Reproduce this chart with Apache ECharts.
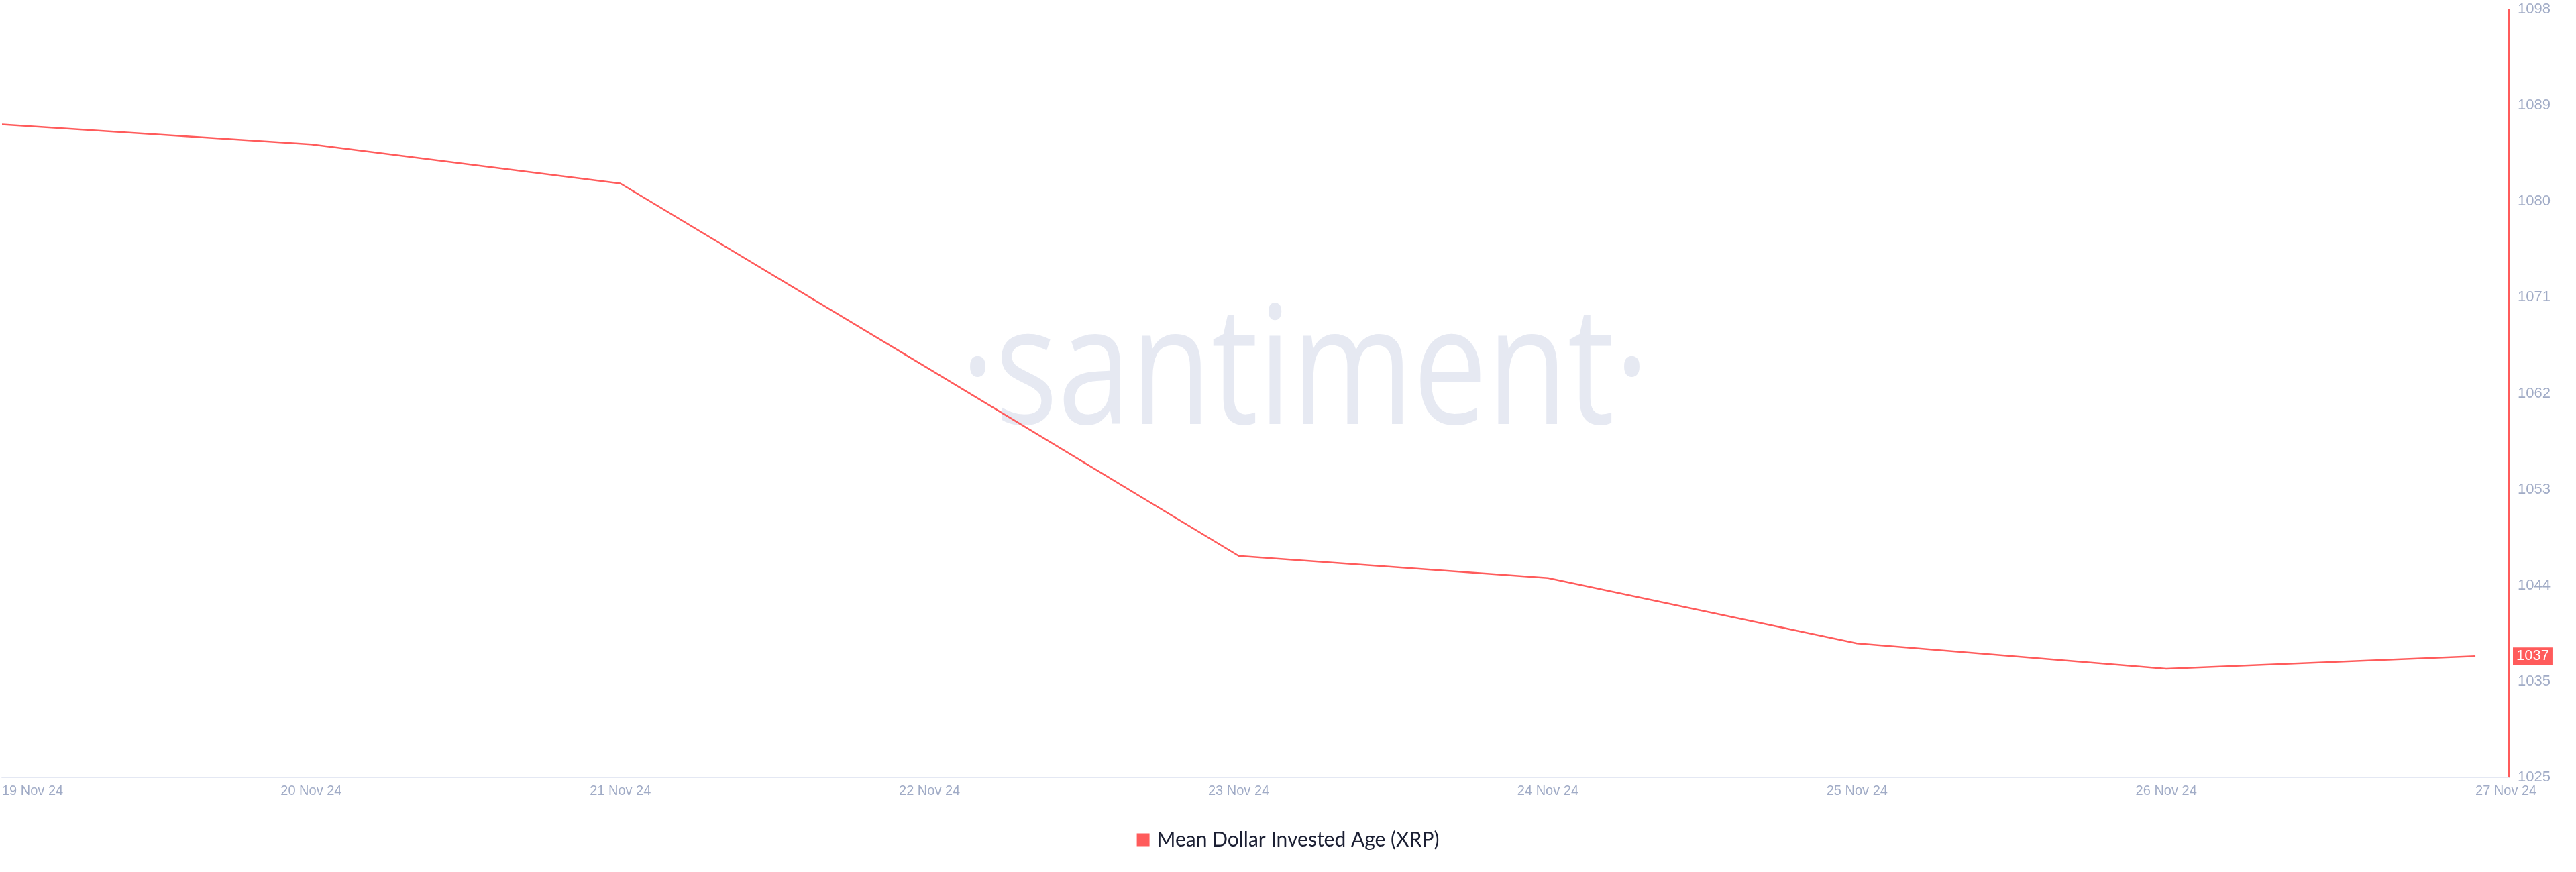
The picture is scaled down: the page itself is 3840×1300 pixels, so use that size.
<!DOCTYPE html>
<html>
<head>
<meta charset="utf-8">
<script src="https://cdn.jsdelivr.net/npm/echarts@6/dist/echarts.min.js"></script>
<style>
  html, body { margin: 0; padding: 0; background: #ffffff; }
  #chart { width: 3840px; height: 1300px; }
</style>
</head>
<body>
<div id="chart"></div>
<script>
// ---- data ----
const dates = ['2024-11-19', '2024-11-20', '2024-11-21', '2024-11-22', '2024-11-23',
               '2024-11-24', '2024-11-25', '2024-11-26', '2024-11-27'];
const mdiaValues = [1087.3, 1085.4, 1081.7, 1064.1, 1046.4, 1044.3, 1038.1, 1035.7, 1036.9];
const yTickValues = [1025.4, 1034.5, 1043.6, 1052.7, 1061.8, 1070.9, 1080.0, 1089.1, 1098.2];
const seriesName = 'Mean Dollar Invested Age (XRP)';
const monthNames = ['Jan','Feb','Mar','Apr','May','Jun','Jul','Aug','Sep','Oct','Nov','Dec'];

const LINE = '#ff5b5b';
const AXIS_TEXT = '#a0abc6';

function toTs(s) {
  const p = s.split('-').map(Number);
  return new Date(p[0], p[1] - 1, p[2]).getTime();
}
const dateTs = dates.map(toTs);
const pts = dateTs.map((t, i) => [t, mdiaValues[i]]);
const lastVal = mdiaValues[mdiaValues.length - 1];

const xMin = dateTs[0];
const xMax = dateTs[dateTs.length - 1] + 2.6 * 3600 * 1000;

const chart = echarts.init(document.getElementById('chart'), null, { renderer: 'canvas' });

chart.setOption({
  animation: false,
  backgroundColor: '#ffffff',
  textStyle: { fontFamily: '"Liberation Sans", Arial, sans-serif' },
  graphic: [{
    type: 'text',
    z: -10,
    silent: true,
    x: 1945,
    y: 562,
    scaleX: 0.8,
    style: {
      text: '·santiment·',
      font: '245px "Open Sans"',
      fill: '#e6e9f2',
      textAlign: 'center',
      textVerticalAlign: 'middle'
    }
  }],
  grid: { left: 0, right: 100, top: 14, bottom: 141, containLabel: false },
  legend: {
    bottom: 28,
    left: 'center',
    icon: 'rect',
    itemWidth: 19,
    itemHeight: 19,
    textStyle: { fontFamily: 'Lato, "Noto Sans", sans-serif', fontSize: 30, color: '#1b1f33', padding: [0, 0, 0, 6] },
    data: [seriesName]
  },
  xAxis: {
    type: 'value',
    min: xMin,
    max: xMax,
    axisLine: { show: true, lineStyle: { color: '#e4e8f3', width: 2 } },
    axisTick: { show: false },
    splitLine: { show: false },
    axisLabel: {
      color: AXIS_TEXT,
      fontSize: 20,
      margin: 10,
      customValues: dateTs,
      alignMinLabel: 'left',
      alignMaxLabel: 'left',
      showMinLabel: true,
      showMaxLabel: true,
      formatter: function (v) {
        const d = new Date(v);
        return d.getDate() + ' ' + monthNames[d.getMonth()] + ' ' + String(d.getFullYear()).slice(2);
      }
    }
  },
  yAxis: {
    type: 'value',
    position: 'right',
    min: yTickValues[0],
    max: yTickValues[yTickValues.length - 1],
    axisLine: { show: true, lineStyle: { color: LINE, width: 2 } },
    axisTick: { show: false },
    splitLine: { show: false },
    axisLabel: {
      color: AXIS_TEXT,
      fontSize: 22,
      margin: 13,
      customValues: yTickValues,
      showMinLabel: true,
      showMaxLabel: true,
      formatter: function (v) { return String(Math.round(v)); }
    }
  },
  series: [{
    name: seriesName,
    type: 'line',
    data: pts,
    showSymbol: false,
    symbol: 'none',
    z: 5,
    lineStyle: { color: LINE, width: 2.5 },
    itemStyle: { color: LINE },
    markLine: {
      silent: true,
      symbol: ['none', 'none'],
      lineStyle: { width: 0, color: 'rgba(0,0,0,0)', type: 'solid' },
      label: {
        show: true,
        position: 'end',
        distance: 6,
        formatter: function () { return String(Math.round(lastVal)); },
        backgroundColor: LINE,
        color: '#ffffff',
        fontSize: 22,
        padding: [3, 5, 1, 5]
      },
      data: [{ yAxis: lastVal }]
    }
  }]
});
</script>
</body>
</html>
